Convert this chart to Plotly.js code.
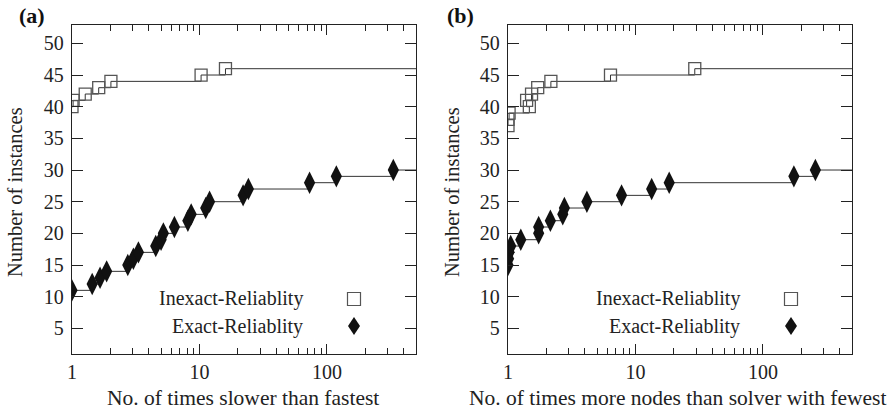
<!DOCTYPE html>
<html>
<head>
<meta charset="utf-8">
<script src="https://cdn.plot.ly/plotly-3.0.1.min.js"></script>
<style>html,body{margin:0;padding:0;background:#fff;}#chart{width:895px;height:413px;}</style>
</head>
<body>
<div id="chart"></div>
<script>
// ---- Data ----
const aInexactX = [1.0, 1.02, 1.27, 1.62, 2.02, 10.3, 16.0];
const aInexactY = [40, 41, 42, 43, 44, 45, 46];
const aExactX = [1.0, 1.44, 1.66, 1.87, 2.74, 3.03, 3.32, 4.54, 5.0, 5.21, 6.36, 8.11, 8.61, 11.2, 12.0, 22.0, 24.2, 73.1, 118.6, 332];
const aExactY = [11, 12, 13, 14, 15, 16, 17, 18, 19, 20, 21, 22, 23, 24, 25, 26, 27, 28, 29, 30];

const bInexactX = [1.0, 1.0, 1.02, 1.47, 1.40, 1.53, 1.71, 2.17, 6.37, 29.2];
const bInexactY = [37, 38, 39, 40, 41, 42, 43, 44, 45, 46];
const bExactX = [1.0, 1.01, 1.02, 1.05, 1.26, 1.74, 1.74, 2.15, 2.69, 2.77, 4.16, 7.78, 13.4, 18.4, 175, 258];
const bExactY = [15, 16, 17, 18, 19, 20, 21, 22, 23, 24, 25, 26, 27, 28, 29, 30];

const xTickVals = [1, 10, 100];
const xTickText = ['1', '10', '100'];
const xMinorVals = [2,3,4,5,6,7,8,9,20,30,40,50,60,70,80,90,200,300,400,500];
const yTickVals = [5, 10, 15, 20, 25, 30, 35, 40, 45, 50];
const xMax = 500;
const seriesNames = ['Inexact-Reliablity', 'Exact-Reliablity'];
const panelLabels = ['(a)', '(b)'];
const xTitles = ['No. of times slower than fastest', 'No. of times more nodes than solver with fewest'];
const yTitle = 'Number of instances';

// ---- Styling ----
const FONT = '"Liberation Serif", "Times New Roman", serif';
const lineCol = '#333';
const W = 895, H = 413;
const px = v => v / W;
const py = v => 1 - v / H;

function stepTraces(xs, ys, xa, ya, open) {
  return [
    { x: xs.concat([xMax]), y: ys.concat([ys[ys.length - 1]]), xaxis: xa, yaxis: ya,
      mode: 'lines', line: { shape: 'hv', color: lineCol, width: 1 }, hoverinfo: 'skip', showlegend: false },
    { x: xs, y: ys, xaxis: xa, yaxis: ya, mode: 'markers', showlegend: false,
      marker: open
        ? { symbol: 'square-open', size: 12, color: '#555', line: { width: 1.3, color: '#555' } }
        : { symbol: 'diamond-tall', size: 16, color: '#111', line: { width: 0 } } }
  ];
}

const data = [].concat(
  stepTraces(aInexactX, aInexactY, 'x', 'y', true),
  stepTraces(aExactX, aExactY, 'x', 'y', false),
  stepTraces(bInexactX, bInexactY, 'x2', 'y2', true),
  stepTraces(bExactX, bExactY, 'x2', 'y2', false)
);

function xaxisDef(dom, anchor) {
  return {
    domain: dom, anchor: anchor, type: 'log', range: [0, Math.log10(xMax)],
    tickvals: xTickVals, ticktext: xTickText, ticks: 'inside', ticklen: 10, tickwidth: 1, tickcolor: '#222',
    minor: { tickvals: xMinorVals, ticks: 'inside', ticklen: 6, tickwidth: 1, tickcolor: '#222' },
    showline: true, linecolor: '#222', linewidth: 1.2, mirror: 'ticks', showgrid: false, zeroline: false,
    tickfont: { family: FONT, size: 20, color: '#222' }, ticklabelstandoff: 0
  };
}
function yaxisDef(anchor) {
  return {
    domain: [py(354), py(25)], anchor: anchor, range: [0.95, 52.9],
    tickvals: yTickVals, ticks: 'inside', ticklen: 11, tickwidth: 1, tickcolor: '#222',
    showline: true, linecolor: '#222', linewidth: 1.2, mirror: 'ticks', showgrid: false, zeroline: false,
    tickfont: { family: FONT, size: 20, color: '#222' }, ticklabelstandoff: 3
  };
}

const annotations = [];
const shapes = [];
const panels = [
  { labelX: 17, yTitleX: 15, legTextX: 305, legMarkX: 354, xTitleX: 243 },
  { labelX: 445, yTitleX: 452, legTextX: 742, legMarkX: 791, xTitleX: 677 }
];
panels.forEach((p, i) => {
  annotations.push({ text: '<b>' + panelLabels[i] + '</b>', xref: 'paper', yref: 'paper', x: px(p.labelX), y: py(15),
    xanchor: 'left', yanchor: 'middle', showarrow: false, font: { family: FONT, size: 22, color: '#111' } });
  annotations.push({ text: xTitles[i], xref: 'paper', yref: 'paper', x: px(p.xTitleX), y: py(398),
    xanchor: 'center', yanchor: 'middle', showarrow: false, font: { family: FONT, size: 21.5, color: '#222' } });
  annotations.push({ text: yTitle, xref: 'paper', yref: 'paper', x: px(p.yTitleX), y: py(192), textangle: -90,
    xanchor: 'center', yanchor: 'middle', showarrow: false, font: { family: FONT, size: 20.5, color: '#222' } });
  annotations.push({ text: seriesNames[0], xref: 'paper', yref: 'paper', x: px(p.legTextX), y: py(298),
    xanchor: 'right', yanchor: 'middle', showarrow: false, font: { family: FONT, size: 20, color: '#222' } });
  annotations.push({ text: seriesNames[1], xref: 'paper', yref: 'paper', x: px(p.legTextX), y: py(326),
    xanchor: 'right', yanchor: 'middle', showarrow: false, font: { family: FONT, size: 20, color: '#222' } });
  shapes.push({ type: 'rect', xref: 'paper', yref: 'paper', xsizemode: 'pixel', ysizemode: 'pixel',
    xanchor: px(p.legMarkX), yanchor: py(299), x0: -6.5, x1: 6.5, y0: -6.5, y1: 6.5,
    line: { color: '#555', width: 1.2 }, fillcolor: 'rgba(0,0,0,0)' });
  shapes.push({ type: 'path', xref: 'paper', yref: 'paper', xsizemode: 'pixel', ysizemode: 'pixel',
    xanchor: px(p.legMarkX), yanchor: py(326), path: 'M 0 9 L 6 0 L 0 -9 L -6 0 Z',
    line: { color: '#111', width: 0 }, fillcolor: '#111' });
});

const layout = {
  width: W, height: H, margin: { l: 0, r: 0, t: 0, b: 0 },
  font: { family: FONT },
  paper_bgcolor: '#fff', plot_bgcolor: '#fff', showlegend: false,
  xaxis: xaxisDef([px(72), px(416)], 'y'),
  yaxis: yaxisDef('x'),
  xaxis2: xaxisDef([px(508), px(852)], 'y2'),
  yaxis2: yaxisDef('x2'),
  annotations: annotations, shapes: shapes
};

Plotly.newPlot('chart', data, layout, { staticPlot: true, displayModeBar: false });
</script>
</body>
</html>
